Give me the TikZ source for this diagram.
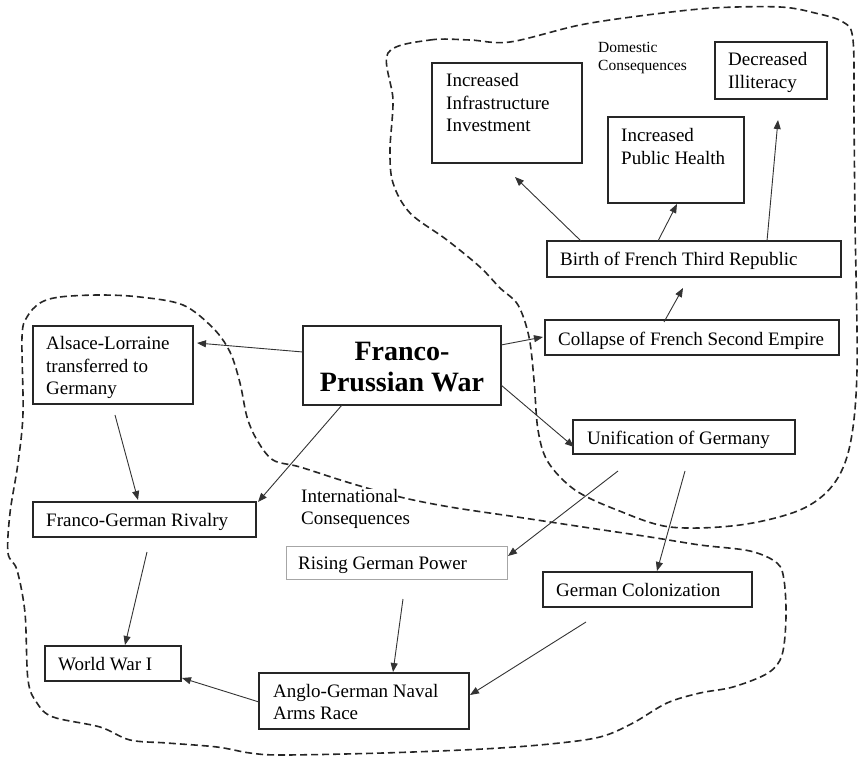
\documentclass[tikz,border=0pt]{standalone}
\usepackage{fontspec}
\setmainfont{Liberation Serif}
\usetikzlibrary{arrows.meta}
\newcommand\tl[1]{\begin{tabular}[t]{@{}l@{}}#1\end{tabular}}
\newcommand\tc[1]{\begin{tabular}[t]{@{}c@{}}#1\end{tabular}}
\begin{document}
\begin{tikzpicture}[x=1pt,y=-1pt,
  box/.style={draw=black!85, line width=1.5pt, inner sep=0pt, outer sep=0pt},
  lightbox/.style={draw=black!35, line width=1pt, inner sep=0pt, outer sep=0pt},
  txt/.style={anchor=base west, inner sep=0pt, font=\fontsize{19}{22.3}\selectfont},
  small/.style={anchor=base west, inner sep=0pt, font=\fontsize{15.5}{17.8}\selectfont},
  big/.style={anchor=base, inner sep=0pt, font=\fontsize{28}{31}\selectfont\bfseries},
  arr/.style={draw=black!80, line width=0.9pt, -{Triangle[length=9pt,width=7pt]}},
  region/.style={draw=black!85, line width=1.6pt, dash pattern=on 7pt off 4pt}]
\useasboundingbox (0,0) rectangle (860,759);

% dashed regions
\draw[region] plot[smooth cycle, tension=0.55] coordinates {
 (388,53) (430,40) (470,40) (510,42) (580,25) (647,15) (713,8) (780,7) (815,13)
 (843,22) (853,40) (854,120) (855,220) (857,370) (850,445) (833,485) (800,510)
 (740,525) (670,527) (617,510) (575,490) (548,462) (538,430) (534,380) (529,337)
 (518,305) (500,288) (480,267) (447,240) (410,213) (393,183) (390,150) (393,100)};
\draw[region] plot[smooth cycle, tension=0.55] coordinates {
 (40,303) (60,297) (100,295) (140,297) (183,305) (213,328) (230,352) (240,383)
 (247,417) (257,440) (273,460) (300,467) (350,483) (400,497) (450,507) (517,517)
 (583,527) (650,537) (700,545) (750,551) (777,563) (784,580) (786,617) (782,655)
 (768,673) (733,687) (700,693) (667,703) (633,723) (600,737) (550,744) (483,749)
 (383,753) (283,755) (250,753) (217,747) (167,743) (130,740) (100,727) (53,717)
 (37,703) (28,680) (25,613) (17,570) (8,553) (10,513) (18,463) (23,413) (22,337)
 (27,317)};

% boxes
\node[box, fill=white, minimum width=150pt, minimum height=100pt] (infra) at (507,113) {};
\node[box, fill=white, minimum width=136pt, minimum height=86pt] (health) at (676,160) {};
\node[box, fill=white, minimum width=112pt, minimum height=57pt] (illit) at (771,70.5) {};
\node[box, fill=white, minimum width=294pt, minimum height=36pt] (birth) at (694,259) {};
\node[box, fill=white, minimum width=294pt, minimum height=35pt] (collapse) at (692,337.5) {};
\node[box, fill=white, minimum width=222pt, minimum height=34pt] (unif) at (684,437) {};
\node[box, fill=white, minimum width=198pt, minimum height=79pt] (fp) at (402,365.5) {};
\node[box, fill=white, minimum width=160pt, minimum height=78pt] (alsace) at (113,365) {};
\node[box, fill=white, minimum width=223pt, minimum height=35pt] (fgr) at (144.5,519.5) {};
\node[box, fill=white, minimum width=136pt, minimum height=35pt] (ww1) at (113,663.5) {};
\node[lightbox, fill=white, minimum width=221pt, minimum height=33pt] (rising) at (396.5,562.5) {};
\node[box, fill=white, minimum width=209pt, minimum height=35pt] (colon) at (647.5,589.5) {};
\node[box, fill=white, minimum width=210pt, minimum height=56pt] (anglo) at (364,701) {};

% texts
\node[txt] (tinfra) at (446,87) {\tl{Increased\\Infrastructure\\Investment}};
\node[txt] (thealth) at (621,142) {\tl{Increased\\Public Health}};
\node[txt] (tillit) at (728,66) {\tl{Decreased\\Illiteracy}};
\node[small] (tdom) at (598,53) {\tl{Domestic\\Consequences}};
\node[txt] (tbirth) at (560,266) {Birth of French Third Republic};
\node[txt] (tcollapse) at (558,346) {Collapse of French Second Empire};
\node[txt] (tunif) at (587,445) {Unification of Germany};
\node[big] (tfp) at (402,361) {\tc{Franco-\\Prussian War}};
\node[txt] (talsace) at (46,350) {\tl{Alsace-Lorraine\\transferred to\\Germany}};
\node[txt] (tfgr) at (46,526) {Franco-German Rivalry};
\node[txt] (tww1) at (58,670) {World War I};
\node[txt, fill=white] (tint) at (301,502) {International};
\node[txt] (tcons) at (301,524) {Consequences};
\node[txt] (trising) at (298,569) {Rising German Power};
\node[txt] (tcolon) at (556,596) {German Colonization};
\node[txt] (tanglo) at (273,697) {\tl{Anglo-German Naval\\Arms Race}};

% connectors
\draw[arr] ([shift={(0,-13.5)}]fp.west) -- ([shift={(4,-22)}]alsace.east);
\draw[arr] ([shift={(0,-20.5)}]fp.east) -- ([shift={(-2,-0.5)}]collapse.west);
\draw[arr] ([shift={(0,19.5)}]fp.east) -- ([shift={(1,10)}]unif.west);
\draw[arr] ([shift={(-60,0)}]fp.south) -- ([shift={(2,0)}]fgr.north east);
\draw[arr] ([shift={(2,11)}]alsace.south) -- ([shift={(-6.5,-2)}]fgr.north);
\draw[arr] ([shift={(2.5,15)}]fgr.south) -- ([shift={(12,-1)}]ww1.north);
\draw[arr] ([shift={(0,1)}]anglo.west) -- ([shift={(1,14.5)}]ww1.east);
\draw[arr] ([shift={(6.5,20)}]rising.south) -- ([shift={(29,-1)}]anglo.north);
\draw[arr] ([shift={(-66,17)}]unif.south) -- ([shift={(1,-6.5)}]rising.east);
\draw[arr] ([shift={(1,17)}]unif.south) -- ([shift={(9.5,-1)}]colon.north);
\draw[arr] ([shift={(-61.5,15)}]colon.south) -- ([shift={(1,-6)}]anglo.east);
\draw[arr] ([shift={(-28,2)}]collapse.north) -- ([shift={(-11,11)}]birth.south);
\draw[arr] ([shift={(-113,0)}]birth.north) -- ([shift={(8,14)}]infra.south);
\draw[arr] ([shift={(-36,0)}]birth.north) -- ([shift={(1,1)}]health.south);
\draw[arr] ([shift={(73,0)}]birth.north) -- ([shift={(7,21)}]illit.south);
\end{tikzpicture}
\end{document}
